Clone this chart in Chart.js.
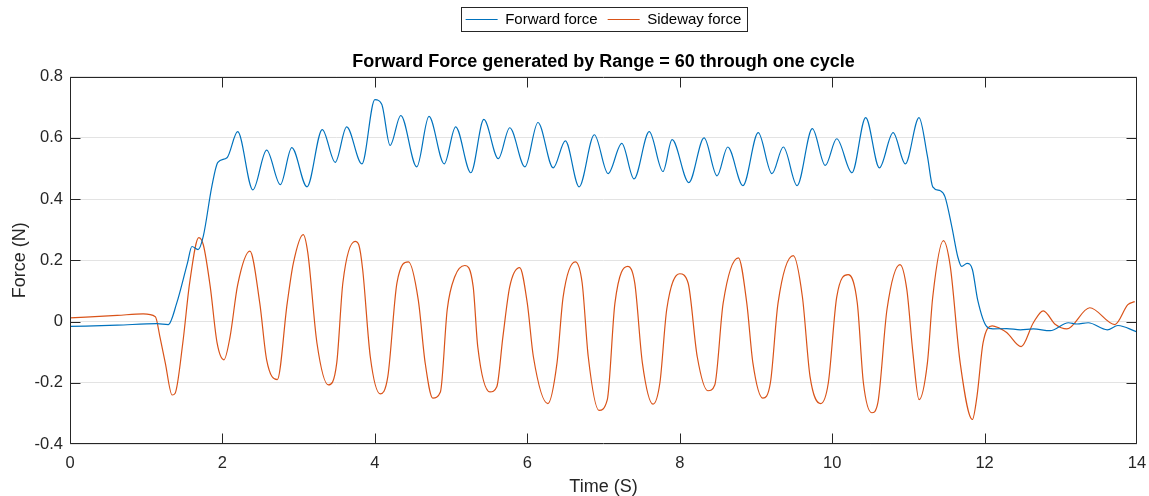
<!DOCTYPE html>
<html>
<head>
<meta charset="utf-8">
<script src="https://cdn.jsdelivr.net/npm/chart.js@4.4.1/dist/chart.umd.min.js"></script>
<style>
  html, body { margin: 0; padding: 0; background: #fff; }
  #wrap { width: 1149px; height: 496px; }
</style>
</head>
<body>
<div id="wrap"><canvas id="myChart"></canvas></div>
<script>
// Forward force (blue): time in s, force in N
var fwdTime = [0.00, 0.62, 1.14, 1.29, 1.40, 1.54, 1.60, 1.68, 1.75, 1.86, 1.94, 2.06, 2.20, 2.40, 2.58, 2.76, 2.91, 3.11, 3.31, 3.48,
  3.63, 3.83, 4.00, 4.09, 4.20, 4.34, 4.55, 4.71, 4.91, 5.06, 5.26, 5.43, 5.62, 5.77, 5.97, 6.14, 6.34, 6.50, 6.68, 6.88,
  7.06, 7.24, 7.40, 7.60, 7.78, 7.90, 8.12, 8.32, 8.49, 8.63, 8.83, 9.03, 9.21, 9.36, 9.54, 9.74, 9.91, 10.06, 10.26, 10.44,
  10.62, 10.80, 10.96, 11.14, 11.25, 11.32, 11.42, 11.48, 11.57, 11.65, 11.70, 11.77, 11.84, 11.91, 12.03, 12.11, 12.29, 12.47, 12.64, 12.86,
  13.10, 13.21, 13.36, 13.61, 13.75, 13.99];
var fwdForce = [-0.016, -0.012, -0.007, -0.010, 0.060, 0.190, 0.245, 0.235, 0.280, 0.440, 0.520, 0.535, 0.620, 0.430, 0.560, 0.447, 0.568, 0.440, 0.627, 0.520,
  0.636, 0.515, 0.725, 0.710, 0.575, 0.673, 0.505, 0.670, 0.515, 0.636, 0.486, 0.660, 0.532, 0.633, 0.505, 0.650, 0.502, 0.590, 0.440, 0.610,
  0.483, 0.582, 0.466, 0.620, 0.490, 0.594, 0.454, 0.600, 0.476, 0.570, 0.444, 0.617, 0.483, 0.570, 0.444, 0.630, 0.510, 0.597, 0.486, 0.666,
  0.502, 0.617, 0.515, 0.666, 0.540, 0.440, 0.427, 0.408, 0.310, 0.210, 0.180, 0.190, 0.170, 0.070, -0.017, -0.024, -0.023, -0.027, -0.024, -0.030,
  -0.004, -0.008, -0.004, -0.027, -0.013, -0.033];

// Sideway force (orange)
var sideTime = [0.00, 0.62, 0.96, 1.12, 1.18, 1.25, 1.34, 1.38, 1.48, 1.57, 1.69, 1.75, 1.84, 1.93, 2.02, 2.10, 2.20, 2.36, 2.49, 2.58,
  2.72, 2.85, 2.93, 3.06, 3.12, 3.24, 3.39, 3.50, 3.58, 3.74, 3.79, 3.84, 3.94, 4.07, 4.17, 4.29, 4.44, 4.57, 4.66, 4.76,
  4.86, 4.95, 5.05, 5.18, 5.29, 5.35, 5.51, 5.60, 5.68, 5.77, 5.90, 6.00, 6.08, 6.27, 6.39, 6.47, 6.63, 6.72, 6.80, 6.94,
  7.05, 7.15, 7.32, 7.41, 7.51, 7.65, 7.74, 7.83, 8.00, 8.11, 8.23, 8.37, 8.46, 8.57, 8.77, 8.88, 8.96, 9.09, 9.19, 9.29,
  9.49, 9.61, 9.71, 9.85, 9.95, 10.06, 10.21, 10.33, 10.41, 10.52, 10.60, 10.72, 10.89, 10.98, 11.06, 11.14, 11.25, 11.32, 11.46, 11.55,
  11.68, 11.84, 11.90, 11.98, 12.10, 12.18, 12.29, 12.48, 12.64, 12.77, 12.93, 13.08, 13.38, 13.71, 13.88, 13.97];
var sideForce = [0.012, 0.020, 0.025, 0.016, -0.050, -0.135, -0.240, -0.234, -0.070, 0.126, 0.274, 0.250, 0.114, -0.070, -0.125, -0.050, 0.120, 0.230, 0.060, -0.125,
  -0.190, 0.060, 0.190, 0.284, 0.225, -0.070, -0.207, -0.135, 0.126, 0.262, 0.250, 0.170, -0.115, -0.236, -0.180, 0.126, 0.195, 0.070, -0.135, -0.250,
  -0.230, 0.040, 0.147, 0.183, 0.114, -0.082, -0.230, -0.213, -0.050, 0.114, 0.176, 0.060, -0.115, -0.268, -0.135, 0.080, 0.195, 0.126, -0.115, -0.290,
  -0.255, 0.060, 0.180, 0.126, -0.135, -0.270, -0.200, 0.040, 0.156, 0.126, -0.115, -0.226, -0.207, 0.060, 0.208, 0.060, -0.135, -0.250, -0.200, 0.060,
  0.215, 0.080, -0.180, -0.268, -0.200, 0.080, 0.153, 0.060, -0.200, -0.298, -0.265, 0.040, 0.186, 0.104, -0.103, -0.255, -0.135, 0.080, 0.264, 0.180,
  -0.135, -0.320, -0.245, -0.070, -0.014, -0.020, -0.036, -0.082, -0.004, 0.035, -0.010, -0.024, 0.045, -0.010, 0.055, 0.065];

var seriesLabels = ["Forward force", "Sideway force"];
var xTicks = [0, 2, 4, 6, 8, 10, 12, 14];
var yTicks = [-0.4, -0.2, 0, 0.2, 0.4, 0.6, 0.8];

function toPoints(xs, ys) {
  return xs.map(function (t, i) { return { x: t, y: ys[i] }; });
}

var FONT = "'Liberation Sans', Arial, Helvetica, sans-serif";
var AXIS = '#262626';

// MATLAB-like box with inward tick marks, plus the legend frame
var axesBox = {
  id: 'axesBox',
  afterDatasetsDraw: function (chart) {
    var ctx = chart.ctx, a = chart.chartArea, x = chart.scales.x, y = chart.scales.y;
    var L = Math.round(a.left) + 0.5, R = Math.round(a.right) - 0.5;
    var T = Math.round(a.top) + 0.5, B = Math.round(a.bottom) - 0.5;
    ctx.save();
    ctx.strokeStyle = AXIS;
    ctx.lineWidth = 1;
    ctx.beginPath();
    ctx.rect(L, T, R - L, B - T);
    xTicks.forEach(function (v) {
      var px = Math.min(R, Math.max(L, Math.round(x.getPixelForValue(v)) + 0.5));
      ctx.moveTo(px, B); ctx.lineTo(px, B - 10);
      ctx.moveTo(px, T); ctx.lineTo(px, T + 10);
    });
    yTicks.forEach(function (v) {
      var py = Math.min(B, Math.max(T, Math.round(y.getPixelForValue(v)) + 0.5));
      ctx.moveTo(L, py); ctx.lineTo(L + 10, py);
      ctx.moveTo(R, py); ctx.lineTo(R - 10, py);
    });
    ctx.stroke();

    var hb = chart.legend && chart.legend.legendHitBoxes;
    if (hb && hb.length) {
      var l = hb[0].left, r = hb[0].left + hb[0].width, t = hb[0].top, b = hb[0].top + hb[0].height;
      hb.forEach(function (h) {
        l = Math.min(l, h.left); r = Math.max(r, h.left + h.width);
        t = Math.min(t, h.top); b = Math.max(b, h.top + h.height);
      });
      ctx.strokeRect(Math.round(l - 5) + 0.5, Math.round(t - 5) + 0.5, Math.round(r - l + 10), Math.round(b - t + 9));
    }
    ctx.restore();
  }
};

var ctx = document.getElementById("myChart");
var myChart = new Chart(ctx, {
  type: 'line',
  data: {
    datasets: [
      {
        label: seriesLabels[0],
        data: toPoints(fwdTime, fwdForce),
        borderColor: '#0072BD',
        backgroundColor: '#0072BD',
        borderWidth: 1.2,
        pointRadius: 0,
        cubicInterpolationMode: 'monotone',
        fill: false
      },
      {
        label: seriesLabels[1],
        data: toPoints(sideTime, sideForce),
        borderColor: '#D95319',
        backgroundColor: '#D95319',
        borderWidth: 1.2,
        pointRadius: 0,
        cubicInterpolationMode: 'monotone',
        fill: false
      }
    ]
  },
  options: {
    responsive: true,
    maintainAspectRatio: false,
    devicePixelRatio: 1,
    animation: false,
    layout: { padding: { top: 2, right: 12, bottom: 0, left: 0 } },
    plugins: {
      legend: {
        position: 'top',
        fullSize: false,
        weight: 3000,
        labels: {
          usePointStyle: true,
          pointStyle: 'line',
          pointStyleWidth: 32,
          boxHeight: 15,
          padding: 10,
          color: '#000',
          font: { family: FONT, size: 15 }
        }
      },
      title: {
        display: true,
        text: 'Forward Force generated by Range = 60 through one cycle',
        fullSize: false,
        color: '#000',
        font: { family: FONT, size: 18, weight: 'bold' },
        padding: { top: 14, bottom: 4 }
      },
      tooltip: { enabled: false }
    },
    scales: {
      x: {
        type: 'linear',
        min: 0,
        max: 14,
        afterFit: function (s) { s.height = 52; s.paddingLeft = 0; s.paddingRight = 0; },
        afterBuildTicks: function (s) { s.ticks = xTicks.map(function (v) { return { value: v }; }); },
        grid: { display: false, drawTicks: false },
        border: { display: false },
        ticks: { color: AXIS, padding: 10, maxRotation: 0, font: { family: FONT, size: 16.5 } },
        title: { display: true, text: 'Time (S)', color: AXIS, padding: { top: 0, bottom: -2 }, font: { family: FONT, size: 18 } }
      },
      y: {
        min: -0.4,
        max: 0.8,
        afterFit: function (s) { s.width = 70; s.paddingTop = 0; s.paddingBottom = 0; },
        afterBuildTicks: function (s) { s.ticks = yTicks.map(function (v) { return { value: v }; }); },
        grid: { color: '#e3e3e3', drawTicks: false },
        border: { display: false },
        ticks: {
          color: AXIS,
          padding: 7,
          font: { family: FONT, size: 16.5 },
          callback: function (v) { return String(Math.round(v * 10) / 10); }
        },
        title: { display: true, text: 'Force (N)', color: AXIS, padding: { top: 9, bottom: 0 }, font: { family: FONT, size: 18 } }
      }
    }
  },
  plugins: [axesBox]
});
</script>
</body>
</html>
